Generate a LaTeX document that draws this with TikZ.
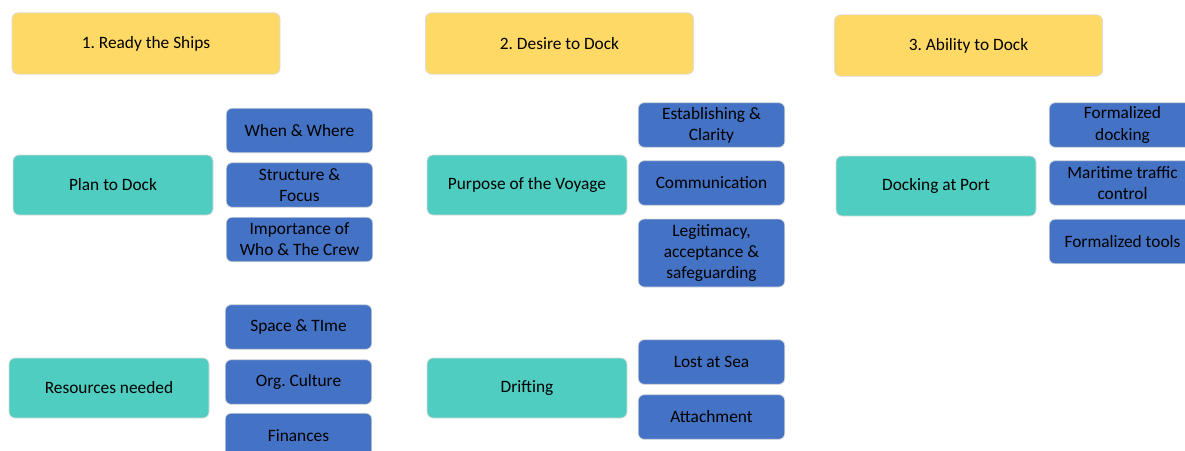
\documentclass[tikz,border=0pt]{standalone}
\usepackage{fontspec}
\setmainfont{Carlito}
\frenchspacing
\definecolor{dockGold}{HTML}{FFD966}
\definecolor{dockTeal}{HTML}{4ECDC0}
\definecolor{dockBlue}{HTML}{4472C4}
\definecolor{dockEdge}{HTML}{DCDCDC}
\tikzset{
  dock box/.style={draw=dockEdge, line width=0.6pt, rounded corners=4.5pt, align=center,
    inner sep=0pt, text=black, font=\fontsize{13}{15.8}\selectfont},
  dock stage/.style={dock box, fill=dockGold, minimum width=201pt, minimum height=46pt},
  dock theme/.style={dock box, fill=dockTeal, minimum width=150pt, minimum height=45pt},
  dock item/.style={dock box, fill=dockBlue, minimum width=110pt, minimum height=33.5pt},
}

\begin{document}
\begin{tikzpicture}[x=0.75pt, y=-0.75pt]
  \useasboundingbox (0,0) rectangle (1185,450);
  \clip (0,0) rectangle (1185,450);

  % Stages along the top
  \node[dock stage] (stage1) at (146,43.5) {1. Ready the Ships};
  \node[dock stage] (stage2) at (559.5,43.5) {2. Desire to Dock};
  \node[dock stage] (stage3) at (968.5,45.5) {3. Ability to Dock};

  % Stage 1: themes and their items
  \node[dock theme] (plan) at (113,185) {Plan to Dock};
  \node[dock item] (when) at (299.5,130.5) {When \& Where};
  \node[dock item] (structure) at (299.5,185) {Structure \&\\Focus};
  \node[dock item] (crew) at (299.5,239.5) {Importance of\\Who \& The Crew};

  \node[dock theme] (resources) at (109,388) {Resources needed};
  \node[dock item] (space) at (298.5,327) {Space \& TIme};
  \node[dock item] (culture) at (298.5,382) {Org. Culture};
  \node[dock item] (finances) at (298.5,435.5) {Finances};

  % Stage 2: themes and their items
  \node[dock theme] (purpose) at (527,185) {Purpose of the Voyage};
  \node[dock item] (clarity) at (711.5,125) {Establishing \&\\Clarity};
  \node[dock item] (communication) at (711.5,183) {Communication};
  \node[dock item, minimum height=51pt] (legitimacy) at (711.5,253)
    {Legitimacy,\\acceptance \&\\safeguarding};

  \node[dock theme] (drifting) at (527,388) {Drifting};
  \node[dock item] (lost) at (711.5,362) {Lost at Sea};
  \node[dock item] (attachment) at (711.5,417) {Attachment};

  % Stage 3: themes and their items
  \node[dock theme] (port) at (936,186) {Docking at Port};
  \node[dock item] (formaldock) at (1122.5,125) {Formalized\\docking};
  \node[dock item] (traffic) at (1122.5,183) {Maritime traffic\\control};
  \node[dock item] (tools) at (1122.5,241.5) {Formalized tools};
\end{tikzpicture}
\end{document}
